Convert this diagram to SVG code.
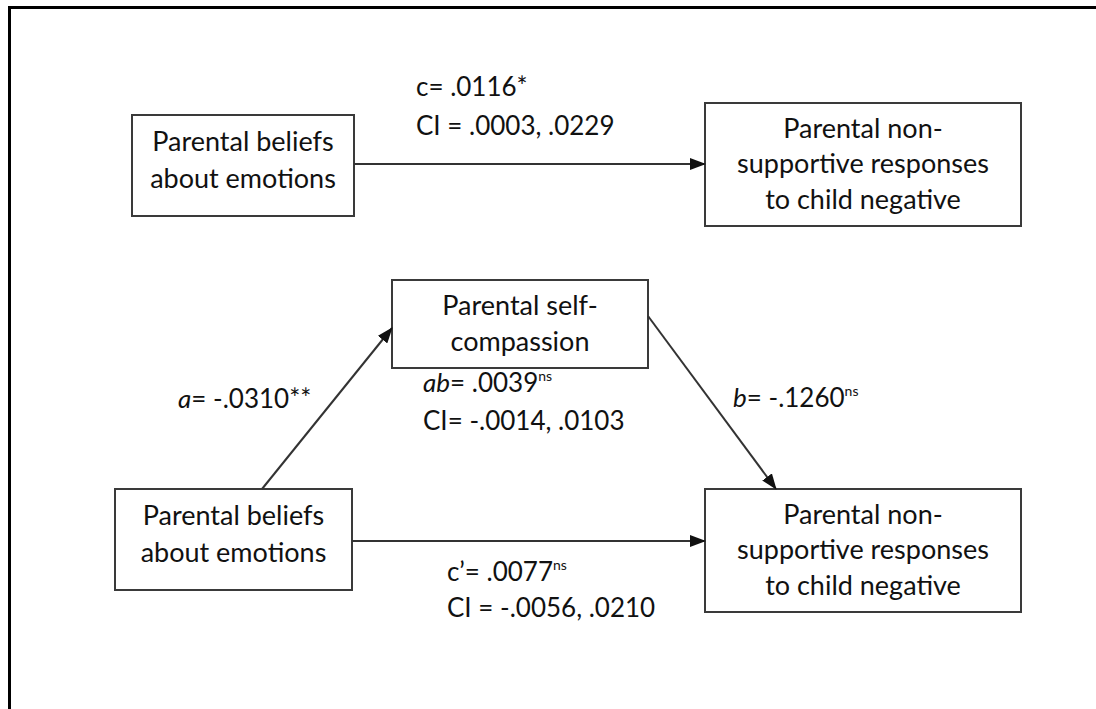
<svg xmlns="http://www.w3.org/2000/svg" width="1096" height="709" viewBox="0 0 1096 709">
  <defs>
    <marker id="arrow" markerUnits="userSpaceOnUse" markerWidth="16" markerHeight="12" refX="15" refY="6" orient="auto">
      <path d="M0,0 L16,6 L0,12 Z" fill="#111"/>
    </marker>
    <style>
      .box { fill: #fff; stroke: #3a3a3a; stroke-width: 2; }
      .nt { font-family: Lato, "Liberation Sans", sans-serif; font-size: 27px; fill: #111; text-anchor: middle; }
      .lb { font-family: Lato, "Liberation Sans", sans-serif; font-size: 26px; fill: #111; }
      .sup { font-size: 14px; }
      .edge { stroke: #333; stroke-width: 2; fill: none; marker-end: url(#arrow); }
      .frame { stroke: #000; stroke-width: 3; fill: none; }
    </style>
  </defs>

  <rect width="1096" height="709" fill="#fff"/>
  <!-- outer frame (open to the right and bottom) -->
  <path class="frame" d="M9.5,709 V7.5 H1096"/>

  <!-- total effect model -->
  <g id="node-beliefs-top">
    <rect class="box" x="132" y="115" width="222" height="101"/>
    <text class="nt" x="243" y="151">Parental beliefs</text>
    <text class="nt" x="243" y="188">about emotions</text>
  </g>
  <g id="node-nonsupportive-top">
    <rect class="box" x="705" y="103" width="316" height="123"/>
    <text class="nt" x="863" y="138">Parental non-</text>
    <text class="nt" x="863" y="173">supportive responses</text>
    <text class="nt" x="863" y="209">to child negative</text>
  </g>

  <!-- mediation model -->
  <g id="node-selfcompassion">
    <rect class="box" x="392" y="280" width="256" height="88"/>
    <text class="nt" x="520" y="315">Parental self-</text>
    <text class="nt" x="520" y="351">compassion</text>
  </g>
  <g id="node-beliefs-bottom">
    <rect class="box" x="115" y="489" width="237" height="101"/>
    <text class="nt" x="233.5" y="525">Parental beliefs</text>
    <text class="nt" x="233.5" y="562">about emotions</text>
  </g>
  <g id="node-nonsupportive-bottom">
    <rect class="box" x="705" y="489" width="316" height="123"/>
    <text class="nt" x="863" y="524">Parental non-</text>
    <text class="nt" x="863" y="559">supportive responses</text>
    <text class="nt" x="863" y="595">to child negative</text>
  </g>

  <g id="connectors">
    <line class="edge" x1="354" y1="164" x2="705" y2="164"/>
    <line class="edge" x1="262" y1="489" x2="392" y2="328"/>
    <line class="edge" x1="648" y1="316" x2="776" y2="489"/>
    <line class="edge" x1="352" y1="541" x2="705" y2="541"/>
  </g>

  <g id="labels">
    <text class="lb" x="416" y="96">c= .0116*</text>
    <text class="lb" x="416" y="135">CI = .0003, .0229</text>

    <text class="lb" x="178" y="408"><tspan font-style="italic">a</tspan>= -.0310**</text>

    <text class="lb" x="423" y="392"><tspan font-style="italic">ab</tspan>= .0039<tspan class="sup" dy="-11">ns</tspan></text>
    <text class="lb" x="423" y="430">CI= -.0014, .0103</text>

    <text class="lb" x="733" y="407"><tspan font-style="italic">b</tspan>= -.1260<tspan class="sup" dy="-11">ns</tspan></text>

    <text class="lb" x="447" y="581">c’= .0077<tspan class="sup" dy="-11">ns</tspan></text>
    <text class="lb" x="447" y="617">CI = -.0056, .0210</text>
  </g>
</svg>
